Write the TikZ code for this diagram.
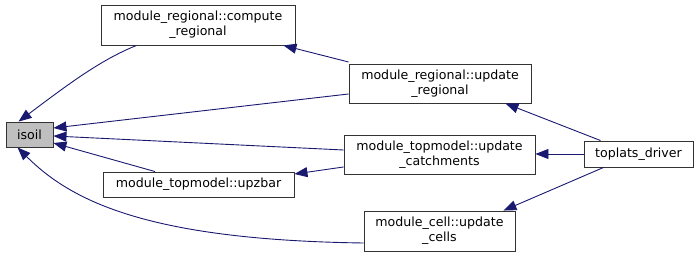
\documentclass[tikz,border=0pt]{standalone}
\usepackage{fontspec}
\setmainfont{DejaVu Sans}
\usetikzlibrary{arrows.meta}
\definecolor{edgeblue}{HTML}{191970}
\definecolor{boxline}{HTML}{333333}
\begin{document}
\begin{tikzpicture}[x=1pt,y=-1pt,
  fn/.style={draw=boxline, line width=0.9pt, fill=white, inner sep=0pt,
    align=center, font=\fontsize{12.6}{14.8}\selectfont},
  focus/.style={fn, fill=black!25},
  call/.style={draw=edgeblue, line width=0.9pt,
    -{Triangle[length=13pt,width=10pt]}}]
\useasboundingbox (0,0) rectangle (699,256);

% functions
\node[focus, minimum width=47pt, minimum height=25pt] (isoil) at (29.5,134.5) {isoil};
\node[fn, minimum width=194pt, minimum height=40pt] (compreg) at (198,25)
  {module\_regional::compute\\\_regional};
\node[fn, minimum width=182pt, minimum height=39pt] (updreg) at (440,83.5)
  {module\_regional::update\\\_regional};
\node[fn, minimum width=191pt, minimum height=39pt] (updcat) at (439.5,154.5)
  {module\_topmodel::update\\\_catchments};
\node[fn, minimum width=191pt, minimum height=25pt] (upzbar) at (198.5,184.5)
  {module\_topmodel::upzbar};
\node[fn, minimum width=151pt, minimum height=40pt] (updcell) at (439.5,231)
  {module\_cell::update\\\_cells};
\node[fn, minimum width=109pt, minimum height=26pt] (driver) at (638.5,154)
  {toplats\_driver};

% calls into isoil (shifts are in page direction: positive yshift is up)
\draw[call] ([xshift=36pt]compreg.south west)
  .. controls (100,60) and (66,86) .. ([xshift=13pt]isoil.north west);
\draw[call] ([yshift=-10.5pt]updreg.west) -- ([yshift=6.5pt]isoil.east);
\draw[call] ([yshift=4.5pt]updcat.west) -- ([yshift=-1.5pt]isoil.east);
\draw[call] ([xshift=-43.5pt]upzbar.north) -- ([yshift=-8.5pt]isoil.east);
\draw[call] ([yshift=-12pt]updcell.west)
  .. controls (150,240) and (72,202) .. ([xshift=12pt]isoil.south west);

% other calls
\draw[call] ([yshift=21.5pt]updreg.west) -- ([xshift=-12pt]compreg.south east);
\draw[call] ([yshift=-12.5pt]updcat.west) -- ([yshift=10.5pt]upzbar.east);
\draw[call] ([xshift=17pt]driver.north west) -- ([xshift=-26pt]updreg.south east);
\draw[call] (driver.west) -- (updcat.east |- driver.west);
\draw[call] ([xshift=20pt]driver.south west) -- ([xshift=-12pt]updcell.north east);
\end{tikzpicture}
\end{document}
